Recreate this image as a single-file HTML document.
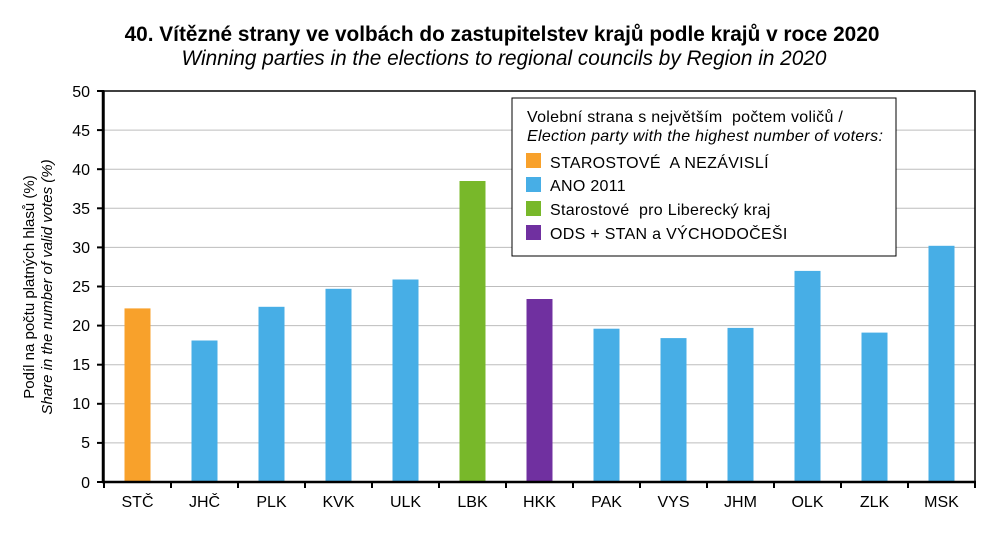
<!DOCTYPE html>
<html><head><meta charset="utf-8"><style>body{margin:0;background:#fff} text{white-space:pre}</style></head><body>
<svg width="1004" height="532" xmlns="http://www.w3.org/2000/svg" font-family="Liberation Sans, Arial, sans-serif">
<rect width="1004" height="532" fill="#fff"/>
<text x="502" y="41" text-anchor="middle" font-size="20.8" font-weight="bold">40. Vítězné strany ve volbách do zastupitelstev krajů podle krajů v roce 2020</text>
<text x="504" y="65" text-anchor="middle" font-size="20.8" font-style="italic">Winning parties in the elections to regional councils by Region in 2020</text>
<g stroke="#bdbdbd" stroke-width="1">
<line x1="104" x2="975" y1="442.9" y2="442.9"/><line x1="104" x2="975" y1="403.8" y2="403.8"/><line x1="104" x2="975" y1="364.7" y2="364.7"/><line x1="104" x2="975" y1="325.6" y2="325.6"/><line x1="104" x2="975" y1="286.5" y2="286.5"/><line x1="104" x2="975" y1="247.4" y2="247.4"/><line x1="104" x2="975" y1="208.3" y2="208.3"/><line x1="104" x2="975" y1="169.2" y2="169.2"/><line x1="104" x2="975" y1="130.1" y2="130.1"/>
</g>
<g>
<rect x="124.5" y="308.4" width="26" height="173.6" fill="#f8a12b"/>
<rect x="191.5" y="340.5" width="26" height="141.5" fill="#47aee6"/>
<rect x="258.5" y="306.8" width="26" height="175.2" fill="#47aee6"/>
<rect x="325.5" y="288.8" width="26" height="193.2" fill="#47aee6"/>
<rect x="392.5" y="279.5" width="26" height="202.5" fill="#47aee6"/>
<rect x="459.5" y="181" width="26" height="301" fill="#78b82a"/>
<rect x="526.5" y="299" width="26" height="183" fill="#7030a0"/>
<rect x="593.5" y="328.7" width="26" height="153.3" fill="#47aee6"/>
<rect x="660.5" y="338.1" width="26" height="143.9" fill="#47aee6"/>
<rect x="727.5" y="327.9" width="26" height="154.1" fill="#47aee6"/>
<rect x="794.5" y="270.9" width="26" height="211.1" fill="#47aee6"/>
<rect x="861.5" y="332.6" width="26" height="149.4" fill="#47aee6"/>
<rect x="928.5" y="245.8" width="26" height="236.2" fill="#47aee6"/>
</g>
<rect x="104" y="91" width="871" height="391" fill="none" stroke="#000" stroke-width="1.5"/>
<line x1="103" y1="90" x2="103" y2="483" stroke="#000" stroke-width="2.5"/>
<line x1="102" y1="482" x2="976" y2="482" stroke="#000" stroke-width="2.5"/>
<g stroke="#000" stroke-width="2">
<line x1="97" x2="103" y1="91" y2="91"/><line x1="97" x2="103" y1="130.1" y2="130.1"/><line x1="97" x2="103" y1="169.2" y2="169.2"/><line x1="97" x2="103" y1="208.3" y2="208.3"/><line x1="97" x2="103" y1="247.4" y2="247.4"/><line x1="97" x2="103" y1="286.5" y2="286.5"/><line x1="97" x2="103" y1="325.6" y2="325.6"/><line x1="97" x2="103" y1="364.7" y2="364.7"/><line x1="97" x2="103" y1="403.8" y2="403.8"/><line x1="97" x2="103" y1="442.9" y2="442.9"/><line x1="97" x2="103" y1="482" y2="482"/>
<line x1="104" x2="104" y1="482" y2="488"/><line x1="171" x2="171" y1="482" y2="488"/><line x1="238" x2="238" y1="482" y2="488"/><line x1="305" x2="305" y1="482" y2="488"/><line x1="372" x2="372" y1="482" y2="488"/><line x1="439" x2="439" y1="482" y2="488"/><line x1="506" x2="506" y1="482" y2="488"/><line x1="573" x2="573" y1="482" y2="488"/><line x1="640" x2="640" y1="482" y2="488"/><line x1="707" x2="707" y1="482" y2="488"/><line x1="774" x2="774" y1="482" y2="488"/><line x1="841" x2="841" y1="482" y2="488"/><line x1="908" x2="908" y1="482" y2="488"/><line x1="975" x2="975" y1="482" y2="488"/>
</g>
<g font-size="16" text-anchor="end">
<text x="90" y="97">50</text><text x="90" y="136">45</text><text x="90" y="175">40</text><text x="90" y="214">35</text><text x="90" y="253">30</text><text x="90" y="292">25</text><text x="90" y="331">20</text><text x="90" y="370">15</text><text x="90" y="409">10</text><text x="90" y="448">5</text><text x="90" y="488">0</text>
</g>
<g font-size="16" text-anchor="middle">
<text x="137.5" y="507">STČ</text><text x="204.5" y="507">JHČ</text><text x="271.5" y="507">PLK</text><text x="338.5" y="507">KVK</text><text x="405.5" y="507">ULK</text><text x="472.5" y="507">LBK</text><text x="539.5" y="507">HKK</text><text x="606.5" y="507">PAK</text><text x="673.5" y="507">VYS</text><text x="740.5" y="507">JHM</text><text x="807.5" y="507">OLK</text><text x="874.5" y="507">ZLK</text><text x="941.5" y="507">MSK</text>
</g>
<text transform="translate(34,287) rotate(-90)" text-anchor="middle" font-size="15">Podíl na počtu platných hlasů (%)</text>
<text transform="translate(52,287) rotate(-90)" text-anchor="middle" font-size="15" font-style="italic">Share in the number of valid votes (%)</text>
<rect x="512" y="98" width="384" height="158" fill="#fff" stroke="#000" stroke-width="1"/>
<g font-size="16" letter-spacing="0.3">
<text x="527" y="122">Volební strana s největším  počtem voličů /</text>
<text x="527" y="141" font-style="italic">Election party with the highest number of voters:</text>
<rect x="526" y="153" width="15" height="15" fill="#f8a12b"/><text x="550" y="168">STAROSTOVÉ  A NEZÁVISLÍ</text>
<rect x="526" y="177" width="15" height="15" fill="#47aee6"/><text x="550" y="191">ANO 2011</text>
<rect x="526" y="201" width="15" height="15" fill="#78b82a"/><text x="550" y="215">Starostové  pro Liberecký kraj</text>
<rect x="526" y="225" width="15" height="15" fill="#7030a0"/><text x="550" y="239">ODS + STAN a VÝCHODOČEŠI</text>
</g>
</svg>
</body></html>
